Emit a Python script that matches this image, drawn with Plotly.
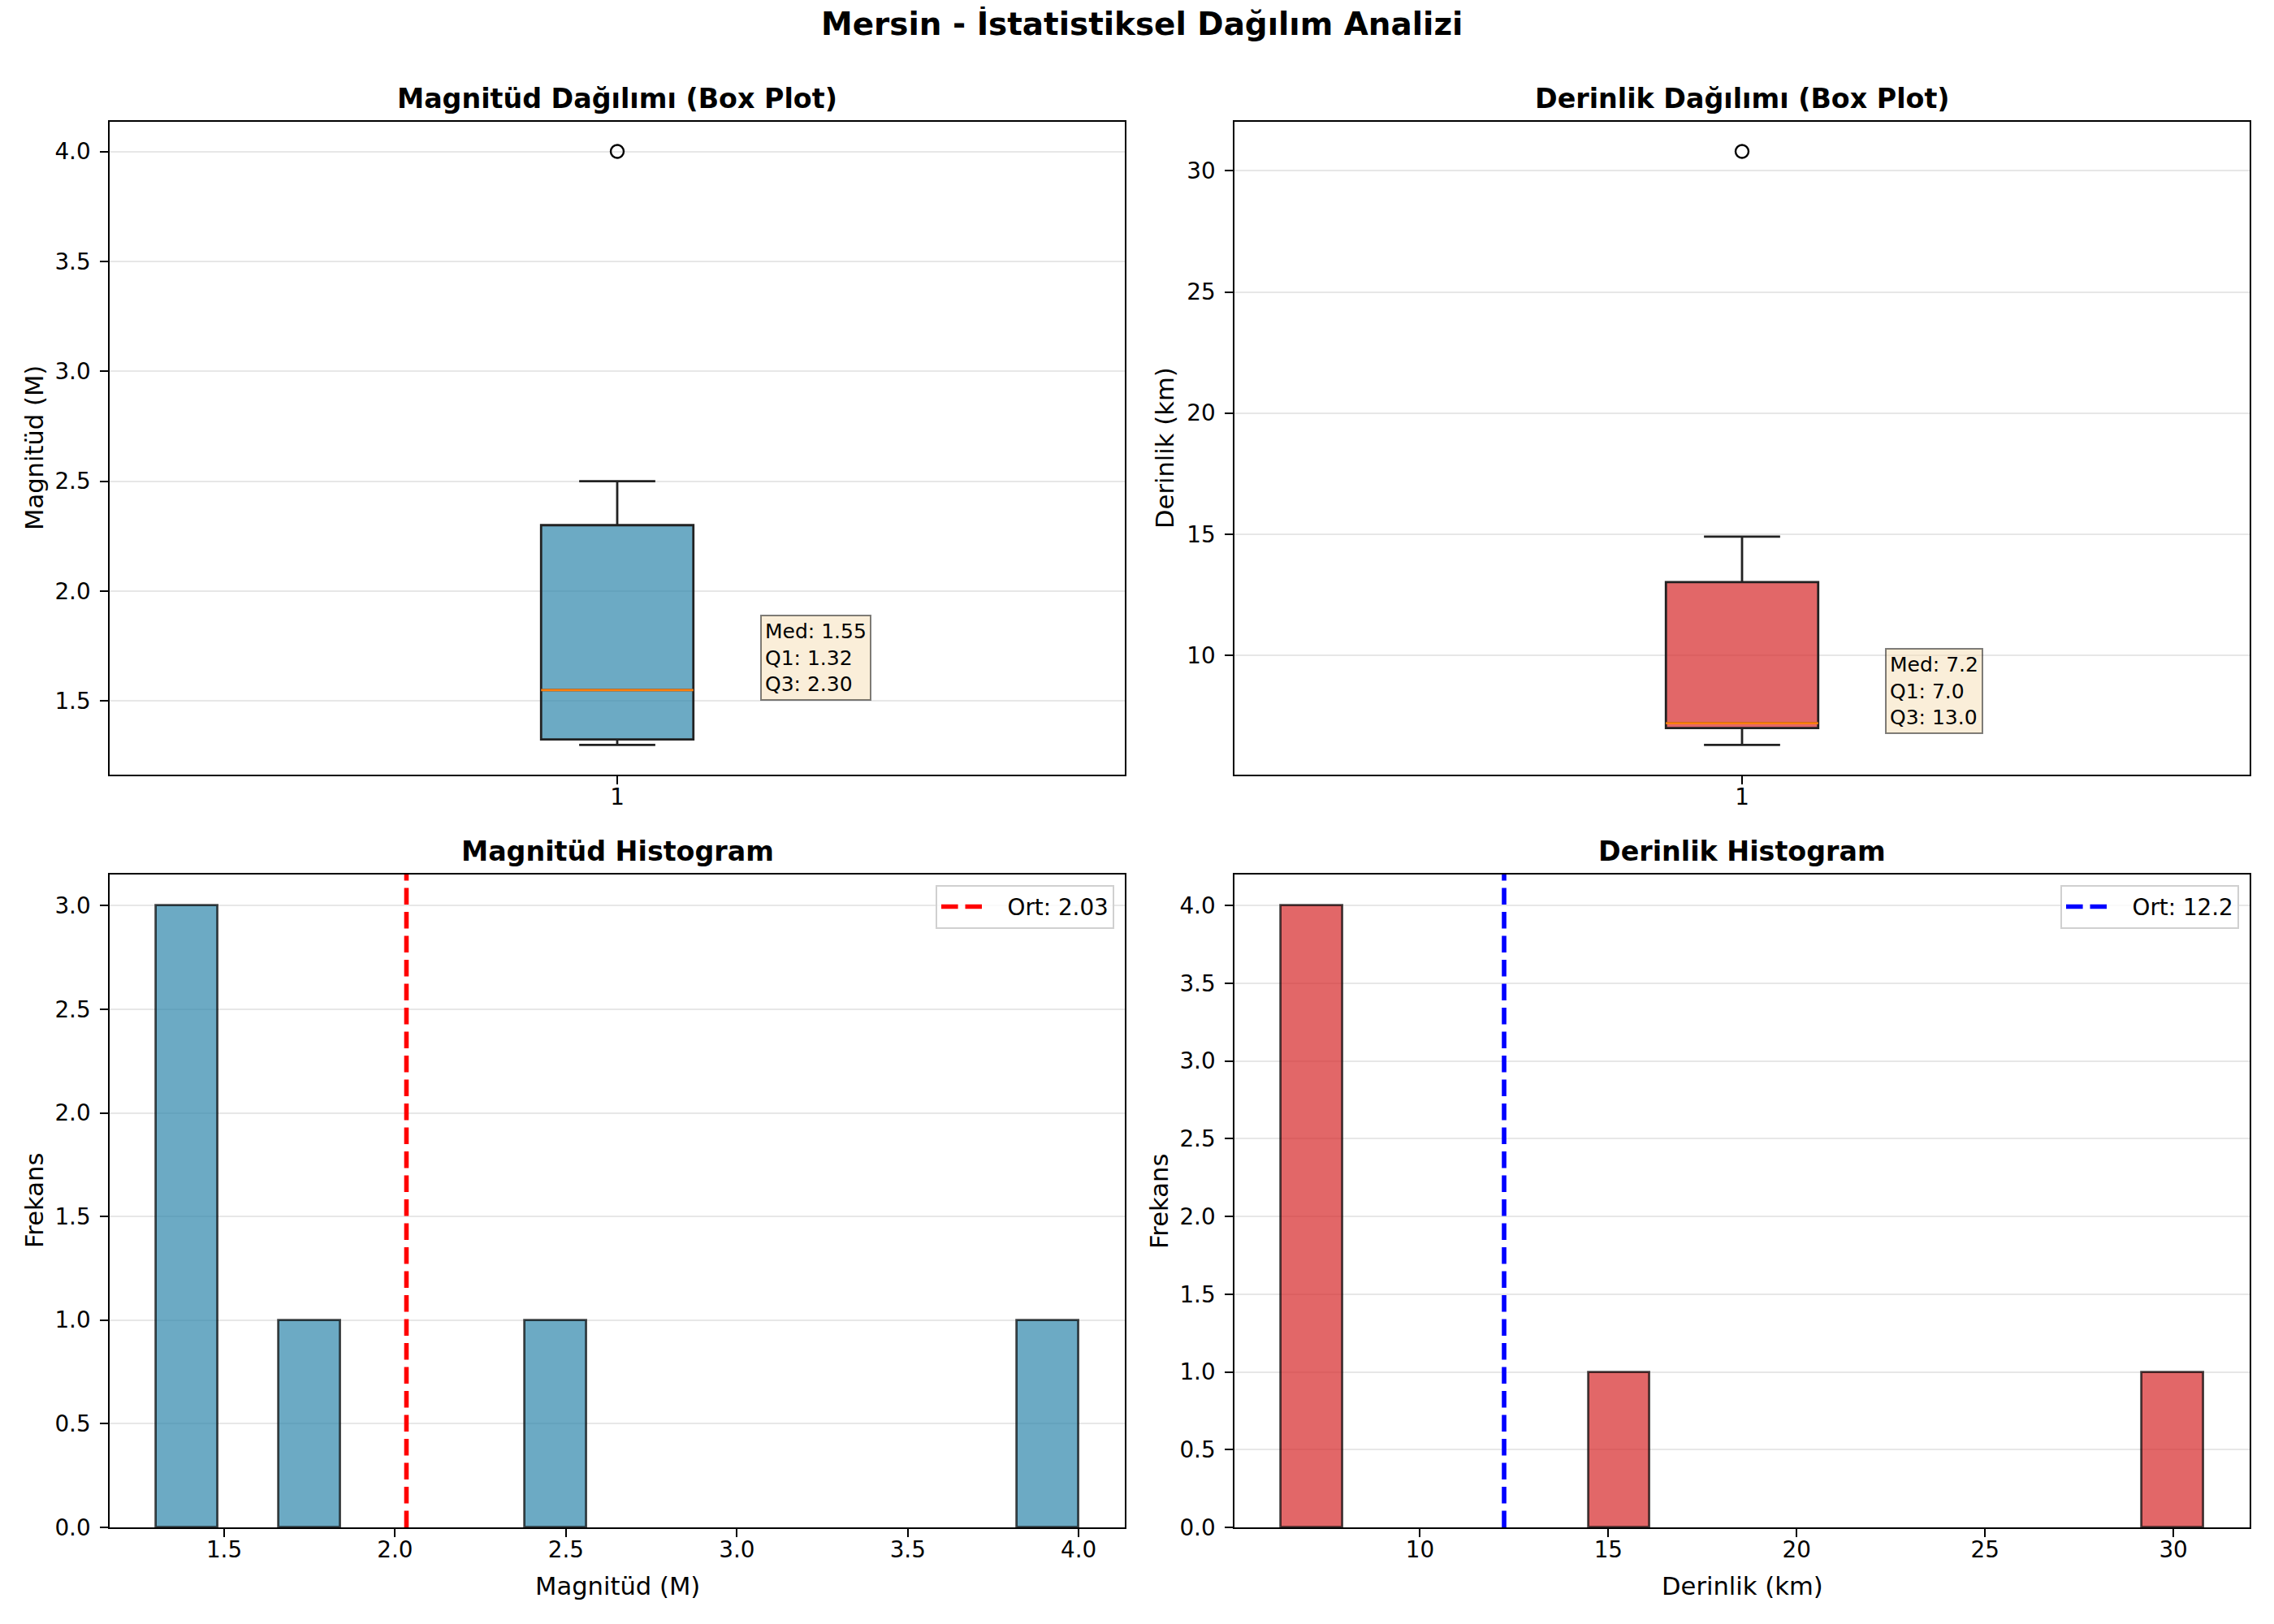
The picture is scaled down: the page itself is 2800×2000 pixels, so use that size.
import numpy as np
import plotly.graph_objects as go

# deprem verileri (Mersin)
magnitudes = [1.3, 1.3, 1.4, 1.7, 2.5, 4.0]
depths = [6.3, 7.0, 7.0, 7.4, 14.9, 30.8]

main_title = "Mersin - İstatistiksel Dağılım Analizi"
titles = ["Magnitüd Dağılımı (Box Plot)", "Derinlik Dağılımı (Box Plot)",
          "Magnitüd Histogram", "Derinlik Histogram"]
mag_label = "Magnitüd (M)"
dep_label = "Derinlik (km)"
freq_label = "Frekans"

mag_color = "rgba(46,134,171,0.7)"
dep_color = "rgba(214,39,40,0.7)"
edge = "rgba(0,0,0,0.7)"
FONT = "DejaVu Sans"
OFF = 8  # page body margin
W, H = 2800 - OFF, 2000 - OFF

# axes boxes in page pixels (left, right, top, bottom)
boxes = [(135, 1385, 150, 954), (1520, 2770, 150, 954),
         (135, 1385, 1077, 1881), (1520, 2770, 1077, 1881)]


def px_x(v):
    return (v - OFF) / W


def px_y(v):
    return 1 - (v - OFF) / H


def box_stats(vals):
    v = np.array(vals)
    q1, med, q3 = np.percentile(v, [25, 50, 75])
    iqr = q3 - q1
    lo = v[v >= q1 - 1.5 * iqr].min()
    hi = v[v <= q3 + 1.5 * iqr].max()
    out = v[(v < lo) | (v > hi)]
    return q1, med, q3, lo, hi, out


def pad_range(lo, hi):
    m = (hi - lo) * 0.05
    return [lo - m, hi + m]


fig = go.Figure()

# --- box plots ---
for i, (vals, col, fmt) in enumerate([(magnitudes, mag_color, "{:.2f}"),
                                       (depths, dep_color, "{:.1f}")]):
    q1, med, q3, lo, hi, out = box_stats(vals)
    xa = "x" if i == 0 else "x2"
    ya = "y" if i == 0 else "y2"
    fig.add_trace(go.Box(x=[1], q1=[q1], median=[med], q3=[q3],
                         lowerfence=[lo], upperfence=[hi],
                         width=0.15, whiskerwidth=0.5, boxpoints=False,
                         fillcolor=col, line=dict(color="#222222", width=2.8),
                         xaxis=xa, yaxis=ya, showlegend=False, hoverinfo="skip"))
    fig.add_trace(go.Scatter(x=[1 - 0.075, 1 + 0.075], y=[med, med], mode="lines",
                             line=dict(color="#ff7f0e", width=2.8),
                             xaxis=xa, yaxis=ya, showlegend=False, hoverinfo="skip"))
    fig.add_trace(go.Scatter(x=[1] * len(out), y=out, mode="markers",
                             marker=dict(symbol="circle-open", size=16,
                                         color="black", line=dict(width=2.4)),
                             xaxis=xa, yaxis=ya, showlegend=False))
    txt = ("Med: " + fmt.format(med) + "<br>Q1: " + fmt.format(q1)
           + "<br>Q3: " + fmt.format(q3))
    fig.add_annotation(x=1.15, y=med, xref=xa, yref=ya, text=txt, showarrow=False,
                       xanchor="left", yanchor="bottom", align="left",
                       xshift=-12, yshift=-13,
                       font=dict(family=FONT, size=25, color="black"),
                       bgcolor="rgba(245,222,179,0.5)", bordercolor="rgba(0,0,0,0.5)",
                       borderwidth=2, borderpad=4)

# --- histograms ---
hist_ranges = []
for i, (vals, col, lcol, fmt) in enumerate([(magnitudes, mag_color, "red", "{:.2f}"),
                                             (depths, dep_color, "blue", "{:.1f}")]):
    counts, edges = np.histogram(vals, bins=15)
    centers = (edges[:-1] + edges[1:]) / 2
    widths = np.diff(edges)
    keep = counts > 0
    xa = "x3" if i == 0 else "x4"
    ya = "y3" if i == 0 else "y4"
    fig.add_trace(go.Bar(x=centers[keep], y=counts[keep], width=widths[keep],
                         marker=dict(color=col, line=dict(color=edge, width=2.8)),
                         xaxis=xa, yaxis=ya, showlegend=False))
    ymax = counts.max() * 1.05
    hist_ranges.append(ymax)
    mean = float(np.mean(vals))
    fig.add_trace(go.Scatter(x=[mean, mean], y=[0, ymax], mode="lines",
                             line=dict(color=lcol, width=5.6, dash="20.6px,8.9px"),
                             name="\u00a0\u00a0\u00a0Ort: " + fmt.format(mean),
                             xaxis=xa, yaxis=ya, showlegend=True,
                             legend="legend" if i == 0 else "legend2"))


def axis_style(domain, rng, **kw):
    d = dict(domain=domain, range=rng, showline=True, mirror=True, linecolor="black",
             linewidth=2.2, ticks="outside", ticklen=9.7, tickwidth=2.2,
             tickcolor="black", ticklabelstandoff=6,
             tickfont=dict(family=FONT, size=27.8, color="black"),
             zeroline=False, showgrid=False, automargin=False)
    d.update(kw)
    return d


doms_x = [[px_x(b[0]), px_x(b[1])] for b in boxes]
doms_y = [[px_y(b[3]), px_y(b[2])] for b in boxes]
grid = dict(showgrid=True, gridcolor="#e7e7e7", gridwidth=2.2)
xs = dict(ticklabelstandoff=-8)

mag_rng = pad_range(min(magnitudes), max(magnitudes))
dep_rng = pad_range(min(depths), max(depths))

legend_style = dict(xanchor="right", yanchor="top", itemwidth=50,
                    bgcolor="rgba(255,255,255,0.8)", bordercolor="#d0d0d0", borderwidth=2,
                    font=dict(family=FONT, size=27.8, color="black"))

fig.update_layout(
    width=W, height=H, margin=dict(l=0, r=0, t=0, b=0),
    paper_bgcolor="white", plot_bgcolor="white",
    font=dict(family=FONT, color="black"),
    bargap=0,
    xaxis=axis_style(doms_x[0], [0.5, 1.5], tickvals=[1], ticktext=["1"], anchor="y", **xs),
    yaxis=axis_style(doms_y[0], mag_rng, dtick=0.5, tickformat=".1f", anchor="x", **grid),
    xaxis2=axis_style(doms_x[1], [0.5, 1.5], tickvals=[1], ticktext=["1"], anchor="y2", **xs),
    yaxis2=axis_style(doms_y[1], dep_rng, dtick=5, anchor="x2", **grid),
    xaxis3=axis_style(doms_x[2], mag_rng, dtick=0.5, tickformat=".1f", anchor="y3", **xs),
    yaxis3=axis_style(doms_y[2], [0, hist_ranges[0]], dtick=0.5, tickformat=".1f",
                      anchor="x3", **grid),
    xaxis4=axis_style(doms_x[3], dep_rng, dtick=5, anchor="y4", **xs),
    yaxis4=axis_style(doms_y[3], [0, hist_ranges[1]], dtick=0.5, tickformat=".1f",
                      anchor="x4", **grid),
    legend=dict(x=px_x(1372), y=px_y(1090), **legend_style),
    legend2=dict(x=px_x(2757), y=px_y(1090), **legend_style),
)

# titles
fig.add_annotation(x=px_x(1406), y=1, xref="paper", yref="paper",
                   text="<b>" + main_title + "</b>",
                   showarrow=False, xanchor="center", yanchor="top", yshift=4,
                   font=dict(family=FONT, size=38.9, color="black"))
for b, t in zip(boxes, titles):
    fig.add_annotation(x=px_x((b[0] + b[1]) / 2), y=px_y(b[2] - 29), xref="paper", yref="paper",
                       text="<b>" + t + "</b>", showarrow=False,
                       xanchor="center", yanchor="middle",
                       font=dict(family=FONT, size=33.3, color="black"))

# axis labels
ylabels = [(mag_label, 93), (dep_label, 86), (freq_label, 93), (freq_label, 93)]
for b, (lab, off) in zip(boxes, ylabels):
    fig.add_annotation(x=px_x(b[0] - off), y=px_y((b[2] + b[3]) / 2), xref="paper", yref="paper",
                       text=lab, textangle=-90, showarrow=False,
                       xanchor="center", yanchor="middle",
                       font=dict(family=FONT, size=30.6, color="black"))
for b, lab in zip(boxes[2:], [mag_label, dep_label]):
    fig.add_annotation(x=px_x((b[0] + b[1]) / 2), y=px_y(b[3] + 72), xref="paper", yref="paper",
                       text=lab, showarrow=False, xanchor="center", yanchor="middle",
                       font=dict(family=FONT, size=30.6, color="black"))

fig.write_html("out.html")
